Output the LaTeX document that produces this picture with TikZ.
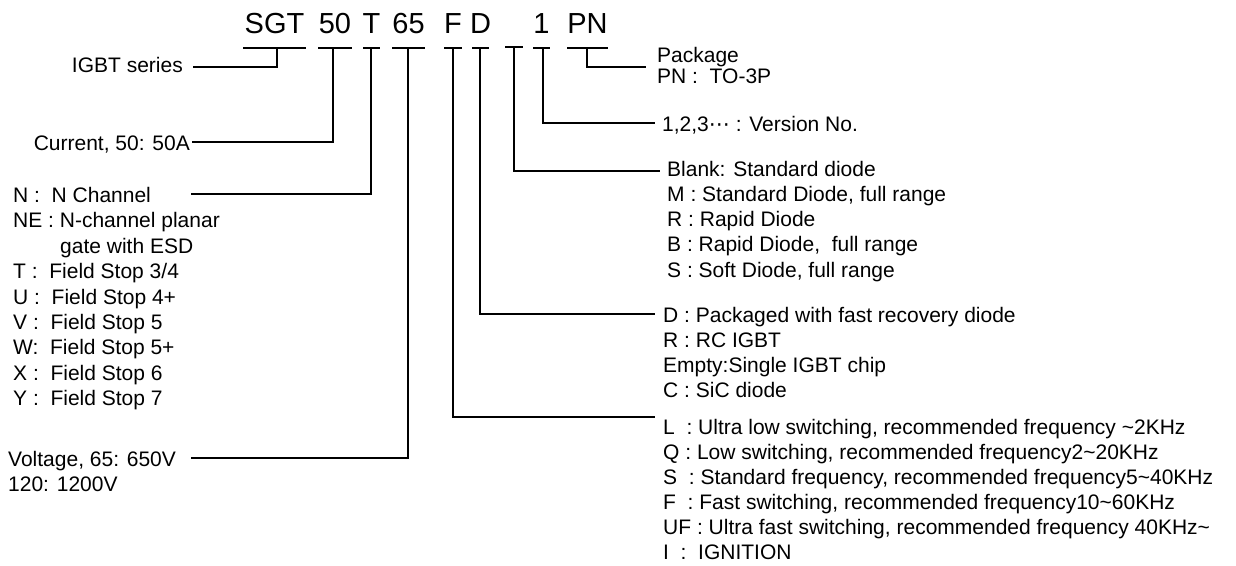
\documentclass[tikz,border=0pt]{standalone}
\usepackage{fontspec}
\setmainfont{Liberation Sans}
\newfontfamily\dejavu{DejaVu Sans}
\begin{document}
\begin{tikzpicture}[x=1pt,y=-1pt,
  conn/.style={line width=1.3pt, line join=miter},
  lbl/.style={inner sep=0pt, font=\fontsize{21}{25}\selectfont, anchor=base west},
  code/.style={inner sep=0pt, font=\fontsize{29}{32}\selectfont, anchor=base}]
\useasboundingbox (0,0) rectangle (1236,565);

% ---- code letters
\node[code] (sgt) at (274.5,33) {SGT};
\node[code] (c50) at (335,33) {50};
\node[code] (cT)  at (371.5,33) {T};
\node[code] (c65) at (408.5,33) {65};
\node[code] (cF)  at (453,33) {F};
\node[code] (cD)  at (480.5,33) {D};
\node[code] (c1)  at (541.5,33) {1};
\node[code] (cPN) at (587.5,33) {PN};

% ---- underlines
\foreach \n/\a/\b/\y in {sgt/243/306/48, c50/318/352/48, cT/363/380/48, c65/392/425/48,
    cF/444/462/48, cD/472/489/48, bl/505/523/47, c1/533/550/48, cPN/567/608/48}{
  \coordinate (\n-l) at (\a,\y);
  \coordinate (\n-r) at (\b,\y);
  \draw[conn] (\n-l) -- (\n-r);
}
\coordinate (sgt-m) at (277,48);
\coordinate (c50-m) at (333,48);
\coordinate (cT-m)  at (371,48);
\coordinate (c65-m) at (408,48);
\coordinate (cF-m)  at (453,48);
\coordinate (cD-m)  at (480,48);
\coordinate (bl-m)  at (514,47);
\coordinate (c1-m)  at (543,48);
\coordinate (cPN-m) at (587,48);

% ---- left labels
\node[lbl, anchor=base east] (igbt) at (183,72) {IGBT series};
\node[lbl, anchor=base east] (cur) at (190,150) {Current, 50: 50A};
\node[lbl] (ch1) at (13,202) {N :~ N Channel};
\node[lbl] (ch2) at (13,227.5) {NE : N-channel planar};
\node[lbl] (ch3) at (60,253) {gate with ESD};
\node[lbl] (ch4) at (13,278.5) {T :~ Field Stop 3/4};
\node[lbl] (ch5) at (13,304) {U :~ Field Stop 4+};
\node[lbl] (ch6) at (13,329) {V :~ Field Stop 5};
\node[lbl] (ch7) at (13,354.5) {W:~ Field Stop 5+};
\node[lbl] (ch8) at (13,380) {X :~ Field Stop 6};
\node[lbl] (ch9) at (13,405.5) {Y :~ Field Stop 7};
\node[lbl] (volt) at (8,466) {Voltage, 65: 650V};
\node[lbl] (v120) at (8,491) {120: 1200V};

% ---- right labels
\node[lbl] (pk1) at (657,62) {Package};
\node[lbl] (pk2) at (657,83.5) {PN :~ TO-3P};
\node[lbl] (ver) at (662,131) {1,2,3{\dejavu ⋯} : Version No.};
\node[lbl] (dd1) at (667,176) {Blank: Standard diode};
\node[lbl] (dd2) at (667,201) {M : Standard Diode, full range};
\node[lbl] (dd3) at (667,226.5) {R : Rapid Diode};
\node[lbl] (dd4) at (667,251.5) {B : Rapid Diode,~ full range};
\node[lbl] (dd5) at (667,277) {S : Soft Diode, full range};
\node[lbl] (pd1) at (663,322.5) {D : Packaged with fast recovery diode};
\node[lbl] (pd2) at (663,347.5) {R : RC IGBT};
\node[lbl] (pd3) at (663,372.5) {Empty:Single IGBT chip};
\node[lbl] (pd4) at (663,397.5) {C : SiC diode};
\node[lbl] (sw1) at (663,434.5) {L~ : Ultra low switching, recommended frequency \textasciitilde{}2KHz};
\node[lbl] (sw2) at (663,459.5) {Q : Low switching, recommended frequency2\textasciitilde{}20KHz};
\node[lbl] (sw3) at (663,484.5) {S~ : Standard frequency, recommended frequency5\textasciitilde{}40KHz};
\node[lbl] (sw4) at (663,509.5) {F~ : Fast switching, recommended frequency10\textasciitilde{}60KHz};
\node[lbl] (sw5) at (663,534.5) {UF : Ultra fast switching, recommended frequency 40KHz\textasciitilde};
\node[lbl] (sw6) at (663,559.5) {I~ :~ IGNITION};

% ---- connector ends
\coordinate (e-igbt) at (193,67);
\coordinate (e-cur)  at (192,142);
\coordinate (e-ch)   at (191,194);
\coordinate (e-volt) at (191,458);
\coordinate (e-pk)   at (646,67);
\coordinate (e-ver)  at (655,123);
\coordinate (e-dd)   at (660,171);
\coordinate (e-pd)   at (655,314);
\coordinate (e-sw)   at (655,417);

% ---- connectors
\draw[conn] (sgt-m) |- (e-igbt);
\draw[conn] (c50-m) |- (e-cur);
\draw[conn] (cT-m)  |- (e-ch);
\draw[conn] (c65-m) |- (e-volt);
\draw[conn] (cF-m)  |- (e-sw);
\draw[conn] (cD-m)  |- (e-pd);
\draw[conn] (bl-m)  |- (e-dd);
\draw[conn] (c1-m)  |- (e-ver);
\draw[conn] (cPN-m) |- (e-pk);
\end{tikzpicture}
\end{document}
